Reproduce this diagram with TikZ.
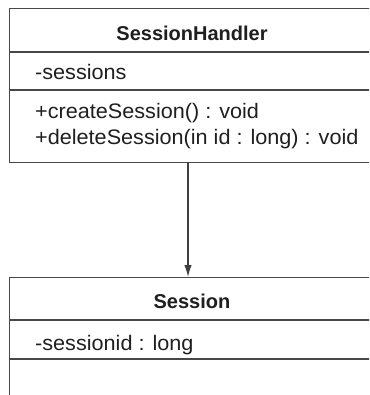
\documentclass[tikz,border=0pt]{standalone}
\usepackage{fontspec}
\setmainfont{Liberation Sans}
\newfontfamily\regfont{Liberation Sans}[FakeStretch=1.03]
\usetikzlibrary{arrows.meta}
\begin{document}
\begin{tikzpicture}[x=1pt,y=-1pt,
  boxline/.style={draw=black!72, line width=1.4pt},
  classbox/.style={boxline, fill=white, anchor=north west, inner sep=0pt},
  title/.style={font=\fontsize{20}{24}\selectfont\bfseries, anchor=base, inner sep=0pt, text=black!88},
  member/.style={font=\regfont\fontsize{21}{25}\selectfont, anchor=base west, inner sep=0pt, text=black!88},
  assoc/.style={draw=black!75, line width=1.3pt, -{Latex[length=12pt,width=7.5pt]}}]
\useasboundingbox (0,0) rectangle (369,395);
\clip (0,0) rectangle (369,395);
\fill[white] (0,0) rectangle (369,395);
% SessionHandler class
\node[classbox, minimum width=380pt, minimum height=154pt] (handler) at (9,8) {};
\draw[boxline] (9,52) -- (389,52);
\draw[boxline] (9,90) -- (389,90);
\node[title] (hname) at (192,41) {SessionHandler};
\node[member] (hattr) at (35,80) {-sessions};
\node[member] (hop1) at (35,119) {+createSession() : void};
\node[member] (hop2) at (35,145) {+deleteSession(in id : long) : void};
% Session class
\node[classbox, minimum width=380pt, minimum height=150pt] (session) at (9,277) {};
\draw[boxline] (9,320) -- (389,320);
\draw[boxline] (9,359) -- (389,359);
\node[title] (sname) at (192,308) {Session};
\node[member] (sattr) at (35,350) {-sessionid : long};
% association
\coordinate (ax) at (188,0);
\draw[assoc] (handler.south -| ax) -- (session.north -| ax);
\end{tikzpicture}
\end{document}
